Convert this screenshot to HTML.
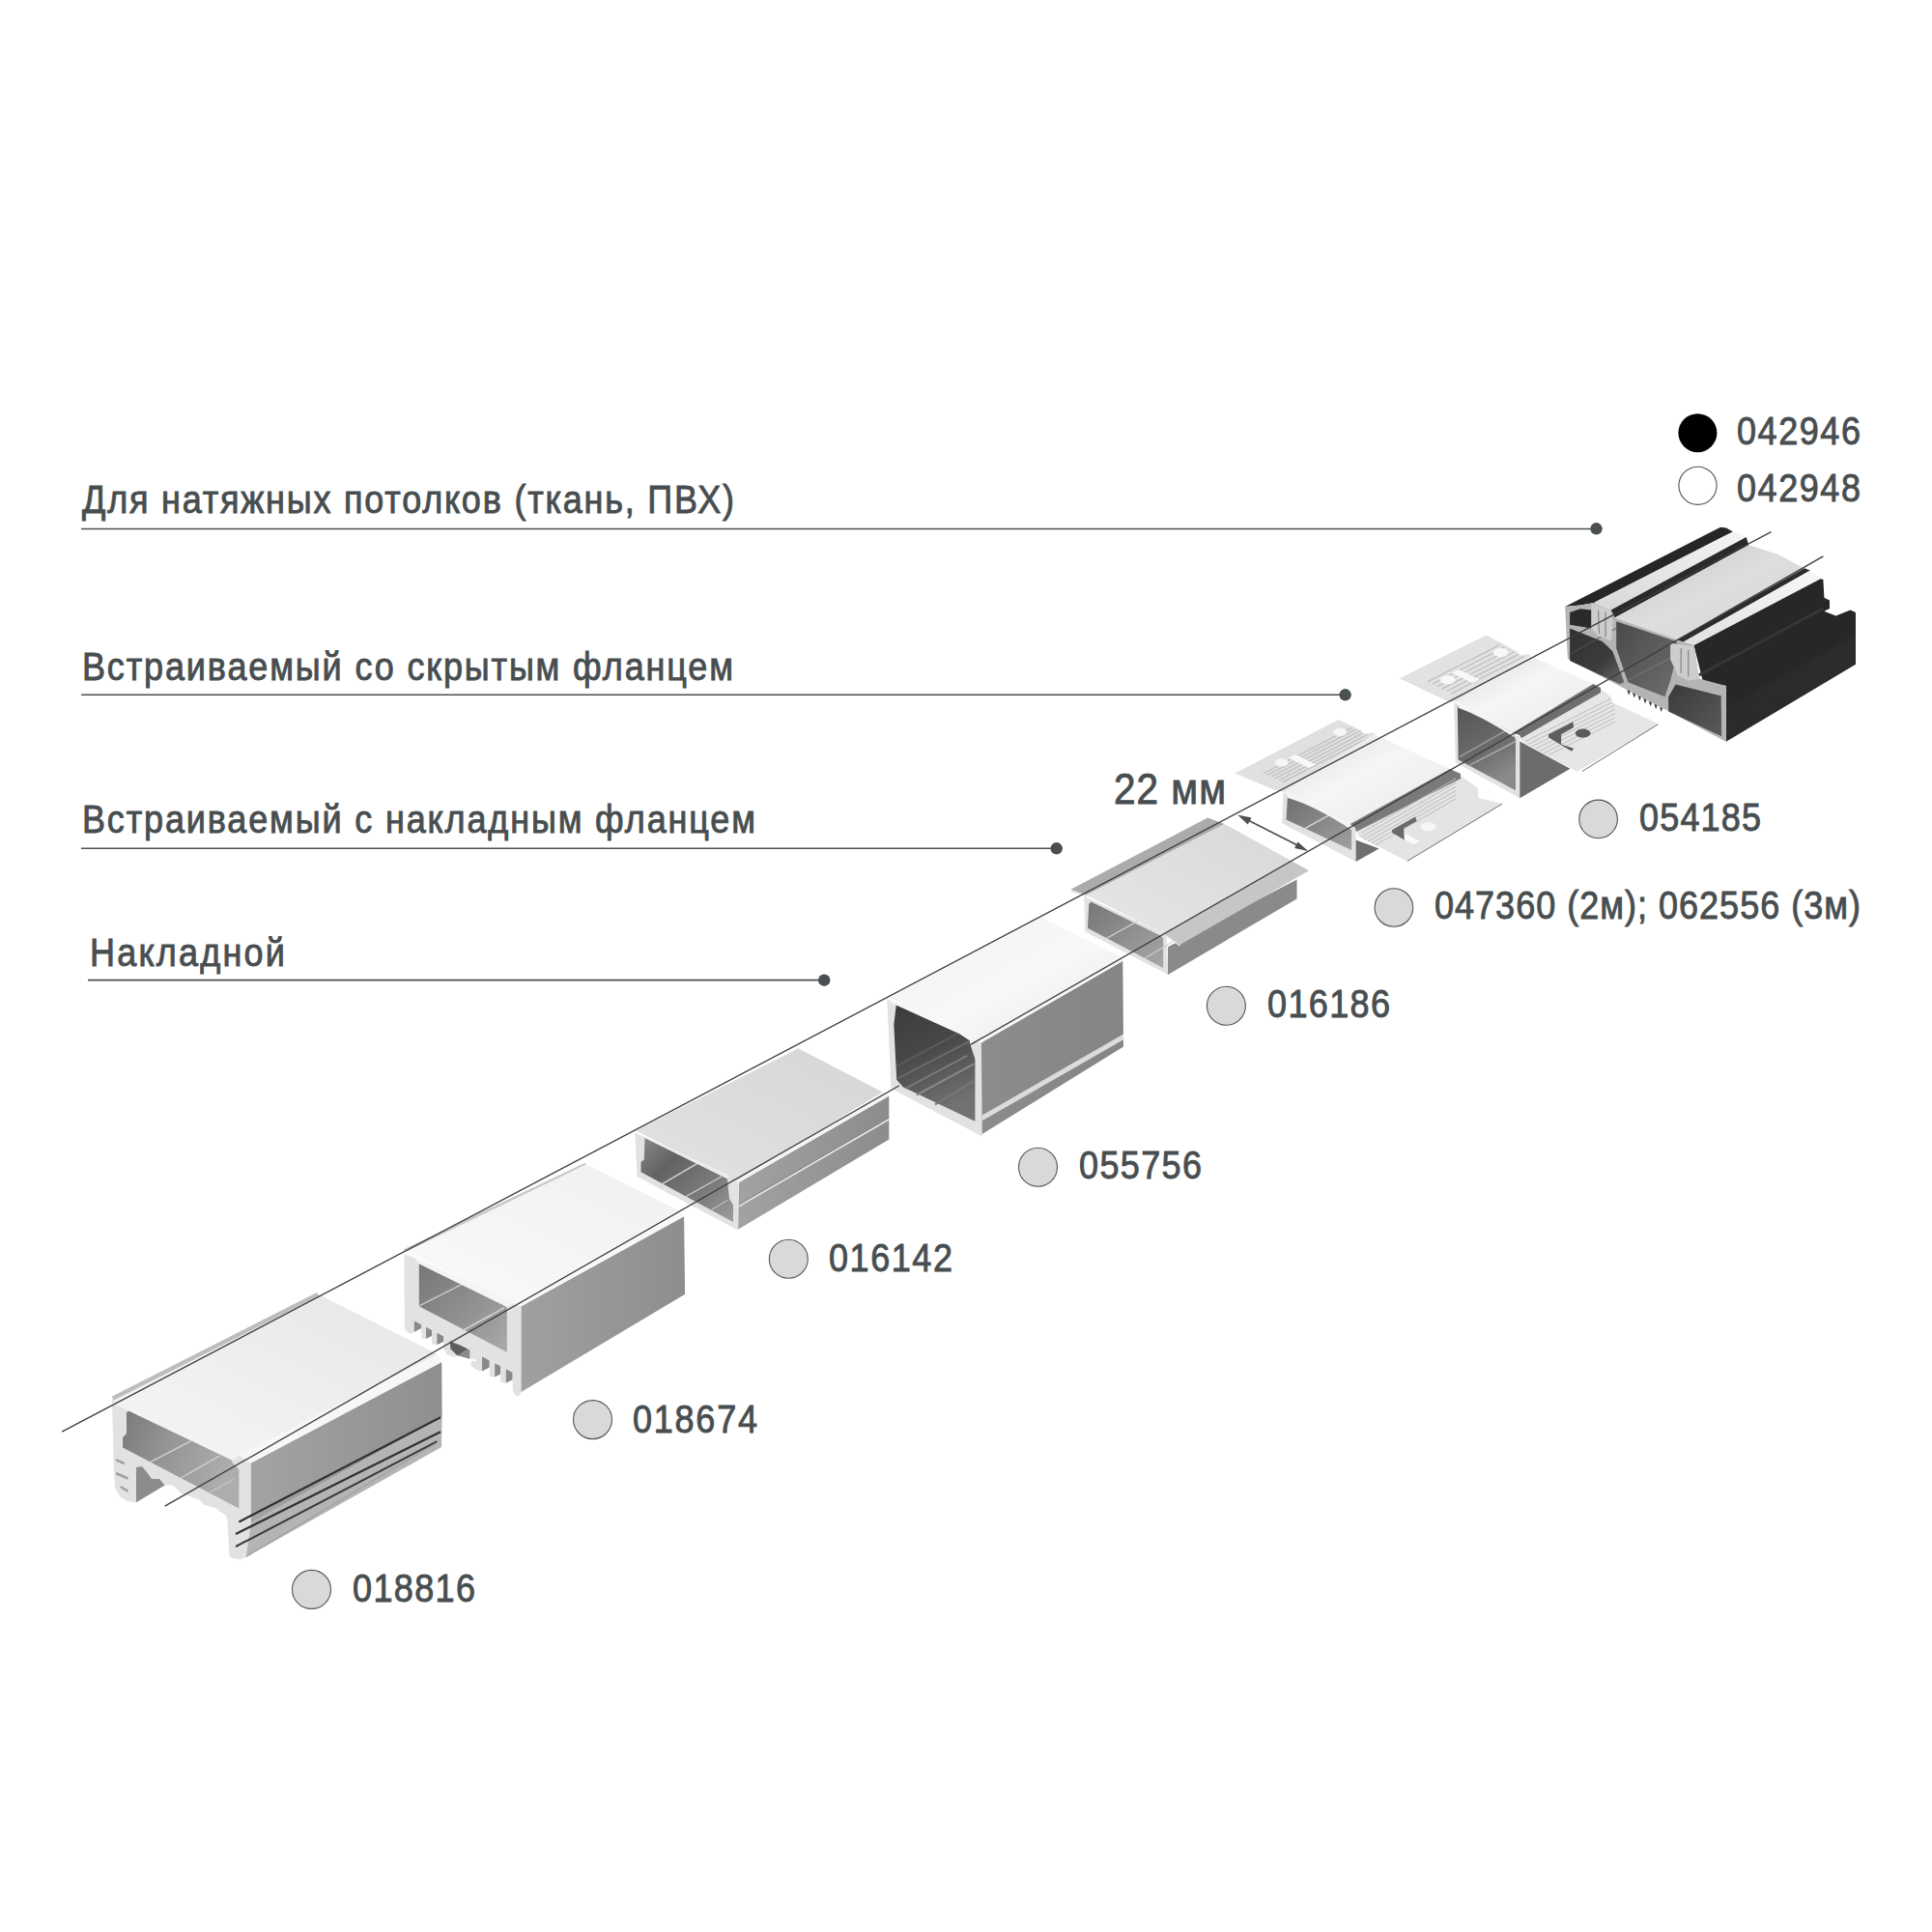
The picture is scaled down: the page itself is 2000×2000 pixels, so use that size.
<!DOCTYPE html>
<html><head><meta charset="utf-8">
<style>
html,body{margin:0;padding:0;background:#fff;width:2000px;height:2000px;overflow:hidden}
svg{display:block}
text{font-family:"Liberation Sans",sans-serif;fill:#484e50;stroke:#484e50;stroke-width:0.9px}
</style></head><body>
<svg width="2000" height="2000" viewBox="0 0 2000 2000">
<rect width="2000" height="2000" fill="#ffffff"/>
<!-- PROFILES -->
<defs>
<linearGradient id="gSide1" x1="0" y1="0" x2="1" y2="0"><stop offset="0" stop-color="#a3a3a3"/><stop offset="1" stop-color="#8f8f8f"/></linearGradient>
<linearGradient id="gSide2" x1="0" y1="0" x2="1" y2="0"><stop offset="0" stop-color="#a0a0a0"/><stop offset="1" stop-color="#8e8e8e"/></linearGradient>
<linearGradient id="gSide3" x1="0" y1="0" x2="1" y2="0"><stop offset="0" stop-color="#a2a2a2"/><stop offset="1" stop-color="#8c8c8c"/></linearGradient>
<linearGradient id="gSide4" x1="0" y1="0" x2="1" y2="0"><stop offset="0" stop-color="#8c8c8c"/><stop offset="1" stop-color="#858585"/></linearGradient>
<linearGradient id="gInt1" x1="0" y1="0" x2="1" y2="0.3"><stop offset="0" stop-color="#7a7a7a"/><stop offset="0.45" stop-color="#959595"/><stop offset="1" stop-color="#adadad"/></linearGradient>
<linearGradient id="gInt2" x1="0" y1="0" x2="1" y2="1"><stop offset="0" stop-color="#767676"/><stop offset="0.5" stop-color="#8e8e8e"/><stop offset="1" stop-color="#aaaaaa"/></linearGradient>
<linearGradient id="gInt3" x1="0" y1="0" x2="1" y2="1"><stop offset="0" stop-color="#8a8a8a"/><stop offset="0.3" stop-color="#626262"/><stop offset="0.7" stop-color="#7e7e7e"/><stop offset="1" stop-color="#9e9e9e"/></linearGradient>
<linearGradient id="gInt4" x1="0" y1="0" x2="0.3" y2="1"><stop offset="0" stop-color="#3c3c3c"/><stop offset="0.45" stop-color="#474747"/><stop offset="1" stop-color="#727272"/></linearGradient>
<linearGradient id="gInt5" x1="0" y1="0" x2="1" y2="1"><stop offset="0" stop-color="#767676"/><stop offset="0.5" stop-color="#8e8e8e"/><stop offset="1" stop-color="#a8a8a8"/></linearGradient>
<linearGradient id="gInt6" x1="0" y1="0" x2="1" y2="1"><stop offset="0" stop-color="#6e6e6e"/><stop offset="1" stop-color="#a0a0a0"/></linearGradient>
<linearGradient id="gInt7" x1="0" y1="0" x2="0.4" y2="1"><stop offset="0" stop-color="#555"/><stop offset="0.6" stop-color="#6a6a6a"/><stop offset="1" stop-color="#8a8a8a"/></linearGradient>
<linearGradient id="gTop" x1="0" y1="1" x2="1" y2="0"><stop offset="0" stop-color="#f6f6f6"/><stop offset="0.5" stop-color="#eeeeee"/><stop offset="1" stop-color="#e6e6e6"/></linearGradient>
<linearGradient id="gTop2" x1="0" y1="1" x2="1" y2="0"><stop offset="0" stop-color="#fafafa"/><stop offset="1" stop-color="#f0f0f0"/></linearGradient>
<linearGradient id="gTop3" x1="0" y1="1" x2="1" y2="0"><stop offset="0" stop-color="#e2e2e2"/><stop offset="1" stop-color="#d6d6d6"/></linearGradient>
<linearGradient id="gTop4" x1="0" y1="0" x2="1" y2="1"><stop offset="0" stop-color="#f2f2f2"/><stop offset="0.55" stop-color="#f8f8f8"/><stop offset="1" stop-color="#e6e6e6"/></linearGradient>
<linearGradient id="gTop5" x1="0" y1="1" x2="1" y2="0"><stop offset="0" stop-color="#e6e6e6"/><stop offset="1" stop-color="#d8d8d8"/></linearGradient>
<linearGradient id="gTop6" x1="0" y1="0" x2="1" y2="1"><stop offset="0" stop-color="#dcdcdc"/><stop offset="0.45" stop-color="#f6f6f6"/><stop offset="0.8" stop-color="#ededed"/><stop offset="1" stop-color="#d2d2d2"/></linearGradient>
<linearGradient id="gTop7" x1="0" y1="0" x2="1" y2="1"><stop offset="0" stop-color="#dcdcdc"/><stop offset="0.45" stop-color="#f6f6f6"/><stop offset="0.8" stop-color="#ededed"/><stop offset="1" stop-color="#d2d2d2"/></linearGradient>
<linearGradient id="gTop8" x1="0" y1="0" x2="1" y2="1"><stop offset="0" stop-color="#c4c4c4"/><stop offset="0.5" stop-color="#dedede"/><stop offset="1" stop-color="#d4d4d4"/></linearGradient>
<linearGradient id="gW1" x1="0" y1="1" x2="1" y2="0"><stop offset="0" stop-color="#d8d8d8"/><stop offset="1" stop-color="#f4f4f4"/></linearGradient>
<linearGradient id="gW2" x1="0" y1="1" x2="1" y2="0"><stop offset="0" stop-color="#e0e0e0"/><stop offset="1" stop-color="#f8f8f8"/></linearGradient>
<linearGradient id="gCav1" x1="0" y1="0" x2="1" y2="1"><stop offset="0" stop-color="#303030"/><stop offset="0.6" stop-color="#3c3c3c"/><stop offset="1" stop-color="#6a6a6a"/></linearGradient>
<linearGradient id="gCav2" x1="0" y1="0" x2="1" y2="1"><stop offset="0" stop-color="#4a4a4a"/><stop offset="1" stop-color="#6e6e6e"/></linearGradient>
<linearGradient id="gCav3" x1="0" y1="0" x2="1" y2="1"><stop offset="0" stop-color="#3a3a3a"/><stop offset="1" stop-color="#5a5a5a"/></linearGradient>
<clipPath id="c6"><polygon points="1404.3,854.9 1504.2,797.8 1519.2,808.1 1529.7,815.6 1530.4,826.1 1555.2,832.1 1456.9,891.4 1405.8,865.8"/></clipPath><clipPath id="c7"><polygon points="1573.3,760.6 1655.9,712.5 1667.5,721.2 1669.0,727.0 1712.5,747.2 1716.1,750.4 1632.8,798.7 1574.8,767.5"/></clipPath></defs>
<g id="profiles">
<g><!-- 042946 -->
<polygon points="1753.3,667.2 1881.8,598.3 1887.4,600.1 1888.4,618.8 1894.0,621.5 1894.0,629.9 1888.4,632.7 1900.5,637.4 1915.4,631.4 1921.0,634.0 1921.0,687.7 1786.8,767.8 1786.8,710.1 1778.4,708.2 1762.6,704.5" fill="#272727" />
<polyline points="1758.9,698.9 1887.4,629.9" fill="none" stroke="#363636" stroke-width="3" />
<polyline points="1787.2,734.3 1920.6,658.8" fill="none" stroke="#363636" stroke-width="0.8" />
<polyline points="1787.2,737.2 1920.6,661.3" fill="none" stroke="#363636" stroke-width="0.8" />
<polyline points="1787.2,740.0 1920.6,663.9" fill="none" stroke="#363636" stroke-width="0.8" />
<polyline points="1787.2,742.9 1920.6,666.4" fill="none" stroke="#363636" stroke-width="0.8" />
<polyline points="1787.2,745.8 1920.6,669.0" fill="none" stroke="#363636" stroke-width="0.8" />
<polyline points="1787.2,748.7 1920.6,671.5" fill="none" stroke="#363636" stroke-width="0.8" />
<polyline points="1787.2,751.5 1920.6,674.1" fill="none" stroke="#363636" stroke-width="0.8" />
<polyline points="1787.2,754.4 1920.6,676.6" fill="none" stroke="#363636" stroke-width="0.8" />
<polyline points="1787.2,757.3 1920.6,679.1" fill="none" stroke="#363636" stroke-width="0.8" />
<polyline points="1787.2,760.2 1920.6,681.7" fill="none" stroke="#363636" stroke-width="0.8" />
<polyline points="1787.2,763.1 1920.6,684.2" fill="none" stroke="#363636" stroke-width="0.8" />
<polyline points="1787.2,765.9 1920.6,686.8" fill="none" stroke="#363636" stroke-width="0.8" />
<polygon points="1620.1,628.1 1781.2,545.7 1787.2,546.6 1793.9,550.4 1650.4,624.0 1635.9,626.6" fill="#262626" />
<polygon points="1650.4,623.6 1793.9,550.4 1807.7,556.0 1667.6,631.4" fill="url(#gW1)" />
<polygon points="1667.6,631.4 1807.7,556.0 1810.3,564.3 1671.7,639.6" fill="#2a2a2a" />
<polygon points="1671.7,639.2 1810.3,564.3 1840.9,574.0 1867.9,588.6 1736.9,662.5" fill="url(#gTop8)" />
<polygon points="1736.9,662.0 1867.9,588.2 1874.0,590.4 1738.7,667.2" fill="#2c2c2c" />
<polygon points="1738.4,666.8 1874.0,590.4 1886.5,598.3 1753.7,668.1" fill="url(#gW2)" />
<polygon points="1620.1,628.1 1635.9,626.6 1650.4,624.0 1667.6,631.4 1671.7,639.6 1736.9,662.5 1753.7,668.1 1758.9,702.6 1778.4,707.8 1786.8,710.1 1786.8,767.8 1723.5,734.3 1721.6,733.3 1681.5,712.8 1622.9,682.1" fill="#b4b4b4" />
<polygon points="1625.1,634.0 1635.9,630.3 1647.4,631.4 1647.4,650.4 1625.1,646.7" fill="#2a2a2a" />
<polygon points="1625.1,650.4 1658.3,663.8 1664.2,669.1 1669.4,674.6 1681.5,706.3 1676.9,708.2 1625.1,684.0" fill="url(#gCav1)" />
<polygon points="1673.2,643.3 1734.6,663.8 1738.4,669.1 1729.1,704.5 1723.5,721.2 1685.3,706.3 1673.2,671.3" fill="url(#gCav2)" />
<polygon points="1727.2,721.2 1734.6,708.6 1781.6,720.3 1782.2,762.2 1727.2,736.5" fill="url(#gCav3)" />
<polyline points="1684.3,704.5 1734.6,678.4" fill="none" stroke="#7a7a7a" stroke-width="1" />
<polyline points="1626.6,676.5 1673.2,650.4" fill="none" stroke="#555" stroke-width="1" />
<polygon points="1647.4,624.3 1667.6,631.8 1669.8,643.0 1667.9,663.8 1654.5,658.3 1647.4,650.4" fill="#cdcdcd" />
<polygon points="1729.1,665.7 1753.7,669.1 1758.9,703.0 1747.7,704.5 1736.9,699.2 1729.1,682.5" fill="#cdcdcd" />
<polyline points="1654.5,631.8 1655.5,656.0" fill="none" stroke="#8a8a8a" stroke-width="1.3" />
<polyline points="1662.0,633.7 1662.0,659.7" fill="none" stroke="#8a8a8a" stroke-width="1.3" />
<polyline points="1740.2,670.9 1740.2,697.0" fill="none" stroke="#8a8a8a" stroke-width="1.3" />
<polyline points="1747.7,672.8 1747.7,700.7" fill="none" stroke="#8a8a8a" stroke-width="1.3" />
<polygon points="1684.3,714.1 1687.7,715.8 1686.2,719.7" fill="#3a3a3a" />
<polygon points="1689.9,717.0 1693.3,718.7 1691.8,722.6" fill="#3a3a3a" />
<polygon points="1695.5,719.9 1698.9,721.6 1697.4,725.5" fill="#3a3a3a" />
<polygon points="1701.1,722.8 1704.5,724.5 1703.0,728.4" fill="#3a3a3a" />
<polygon points="1706.7,725.7 1710.1,727.4 1708.6,731.3" fill="#3a3a3a" />
<polygon points="1712.3,728.6 1715.6,730.3 1714.2,734.2" fill="#3a3a3a" />
<polygon points="1717.9,731.5 1721.2,733.2 1719.7,737.1" fill="#3a3a3a" />
</g>
<g><!-- 054185 -->
<polygon points="1448.7,702.3 1538.6,657.4 1571.2,674.8 1572.6,678.4 1583.5,677.0 1584.9,682.0 1508.1,725.5 1500.9,727.0" fill="#e2e2e2" />
<polyline points="1477.8,705.9 1552.7,667.5" fill="none" stroke="#bdbdbd" stroke-width="1.2" />
<polyline points="1482.7,708.3 1557.7,669.9" fill="none" stroke="#bdbdbd" stroke-width="1.2" />
<polyline points="1487.7,710.7 1562.7,672.3" fill="none" stroke="#bdbdbd" stroke-width="1.2" />
<polyline points="1492.7,713.1 1567.7,674.7" fill="none" stroke="#bdbdbd" stroke-width="1.2" />
<polyline points="1497.7,715.5 1572.6,677.1" fill="none" stroke="#bdbdbd" stroke-width="1.2" />
<polyline points="1502.6,717.9 1577.6,679.5" fill="none" stroke="#bdbdbd" stroke-width="1.2" />
<polygon points="1502.6,696.6 1509.8,693.0 1531.4,703.4 1524.2,707.0" fill="#f8f8f8" />
<path d="M1498.7,703.8 m-8,0 a8,4.5 0 1,0 16,0 a8,4.5 0 1,0 -16,0" fill="#f8f8f8" />
<path d="M1553.8,675.5 m-8,0 a8,4.5 0 1,0 16,0 a8,4.5 0 1,0 -16,0" fill="#f8f8f8" />
<polygon points="1505.2,727.0 1570.4,761.7 1573.3,762.5 1573.3,826.2 1506.7,789.3" fill="#e2e2e2" />
<polygon points="1508.8,729.9 1566.1,757.4 1569.0,766.1 1569.0,818.3 1509.6,786.4" fill="url(#gInt7)" />
<polyline points="1511.0,783.5 1564.6,753.0" fill="none" stroke="#9a9a9a" stroke-width="1.5" />
<polyline points="1521.2,792.2 1569.0,767.5" fill="none" stroke="#aaaaaa" stroke-width="1.5" />
<polygon points="1573.3,767.5 1625.5,795.8 1573.3,826.2" fill="#6c6c6c" />
<polygon points="1508.1,725.5 1582.8,678.4 1649.4,708.1 1566.1,758.8" fill="url(#gTop7)" />
<path d="M1508.1,725.5 L1566.1,758.8 L1567.5,763.2 Q1535.7,742.2 1509.6,732.8 Z" fill="#f4f4f4" />
<polygon points="1573.3,760.6 1655.9,712.5 1667.5,721.2 1669.0,727.0 1712.5,747.2 1716.1,750.4 1632.8,798.7 1574.8,767.5" fill="#e6e6e6" />
<polyline points="1637.9,798.5 1716.6,749.7" fill="none" stroke="#707070" stroke-width="1" />
<polygon points="1566.0,758.8 1649.4,708.1 1657.0,712.0 1657.0,717.0 1575.0,764.0 1573.0,761.0" fill="#6e6e6e" />
<polyline points="1579.1,767.5 1671.9,721.2" fill="none" stroke="#bdbdbd" stroke-width="1.0" clip-path="url(#c7)"/>
<polyline points="1579.1,771.9 1671.9,725.5" fill="none" stroke="#bdbdbd" stroke-width="1.0" clip-path="url(#c7)"/>
<polyline points="1579.1,776.2 1671.9,729.9" fill="none" stroke="#bdbdbd" stroke-width="1.0" clip-path="url(#c7)"/>
<polyline points="1579.1,780.6 1671.9,734.2" fill="none" stroke="#bdbdbd" stroke-width="1.0" clip-path="url(#c7)"/>
<polyline points="1579.1,784.9 1671.9,738.6" fill="none" stroke="#bdbdbd" stroke-width="1.0" clip-path="url(#c7)"/>
<polyline points="1579.1,789.3 1671.9,742.9" fill="none" stroke="#bdbdbd" stroke-width="1.0" clip-path="url(#c7)"/>
<polyline points="1579.1,793.6 1671.9,747.2" fill="none" stroke="#bdbdbd" stroke-width="1.0" clip-path="url(#c7)"/>
<polygon points="1603.0,760.3 1628.4,747.2 1629.1,753.0 1616.1,760.3 1616.1,770.4 1629.1,774.8 1627.0,777.7 1603.0,763.2" fill="#5e5e5e" />
<path d="M1638.6,759.1 m-8,0 a8,4.5 0 1,0 16,0 a8,4.5 0 1,0 -16,0" fill="#5a5a5a" />
</g>
<g><!-- 047360 -->
<polygon points="1278.3,800.5 1385.6,745.0 1409.6,756.3 1410.3,760.0 1421.6,758.5 1425.4,762.3 1330.0,820.1 1319.5,817.8" fill="#e0e0e0" />
<polyline points="1307.7,800.8 1398.9,753.6" fill="none" stroke="#bdbdbd" stroke-width="1.2" />
<polyline points="1311.8,802.5 1403.0,755.3" fill="none" stroke="#bdbdbd" stroke-width="1.2" />
<polyline points="1315.9,804.2 1407.1,757.0" fill="none" stroke="#bdbdbd" stroke-width="1.2" />
<polyline points="1320.0,806.0 1411.2,758.8" fill="none" stroke="#bdbdbd" stroke-width="1.2" />
<polyline points="1324.1,807.7 1415.3,760.5" fill="none" stroke="#bdbdbd" stroke-width="1.2" />
<polyline points="1328.3,809.4 1419.5,762.2" fill="none" stroke="#bdbdbd" stroke-width="1.2" />
<polygon points="1333.6,784.6 1340.8,781.0 1362.4,791.4 1355.2,795.0" fill="#f8f8f8" />
<path d="M1326.7,789.3 m-7,0 a7,4 0 1,0 14,0 a7,4 0 1,0 -14,0" fill="#f6f6f6" />
<path d="M1387.1,757.8 m-7,0 a7,4 0 1,0 14,0 a7,4 0 1,0 -14,0" fill="#f6f6f6" />
<polygon points="1328.5,820.1 1397.6,853.1 1403.6,856.1 1403.6,892.1 1327.0,852.3" fill="#e2e2e2" />
<polygon points="1333.0,822.3 1394.6,853.8 1399.1,857.6 1399.1,880.1 1331.5,848.6" fill="url(#gInt6)" />
<polyline points="1348.1,859.1 1378.1,842.6" fill="none" stroke="#d8d8d8" stroke-width="1.2" />
<polygon points="1403.6,869.6 1427.6,878.6 1403.6,892.1" fill="#6e6e6e" />
<polygon points="1330.0,818.6 1421.6,760.0 1501.2,796.0 1397.6,853.1" fill="url(#gTop6)" />
<path d="M1330.0,818.6 L1397.6,853.1 L1399.1,859.1 Q1360.1,833.6 1333.0,826.1 Z" fill="#f4f4f4" />
<polygon points="1404.3,854.9 1504.2,797.8 1519.2,808.1 1529.7,815.6 1530.4,826.1 1555.2,832.1 1456.9,891.4 1405.8,865.8" fill="#e4e4e4" />
<polyline points="1456.9,891.4 1555.2,832.1" fill="none" stroke="#707070" stroke-width="1" />
<polygon points="1397.6,853.1 1501.2,796.0 1512.0,801.0 1512.0,806.0 1404.0,861.0 1403.0,857.0" fill="#7a7a7a" />
<polyline points="1409.6,862.1 1507.2,805.8" fill="none" stroke="#bdbdbd" stroke-width="1.0" clip-path="url(#c6)"/>
<polyline points="1409.6,866.3 1507.2,810.0" fill="none" stroke="#bdbdbd" stroke-width="1.0" clip-path="url(#c6)"/>
<polyline points="1409.6,870.5 1507.2,814.2" fill="none" stroke="#bdbdbd" stroke-width="1.0" clip-path="url(#c6)"/>
<polyline points="1409.6,874.7 1507.2,818.4" fill="none" stroke="#bdbdbd" stroke-width="1.0" clip-path="url(#c6)"/>
<polyline points="1409.6,878.9 1507.2,822.6" fill="none" stroke="#bdbdbd" stroke-width="1.0" clip-path="url(#c6)"/>
<polyline points="1409.6,883.1 1507.2,826.8" fill="none" stroke="#bdbdbd" stroke-width="1.0" clip-path="url(#c6)"/>
<polygon points="1441.1,859.1 1465.1,845.6 1466.6,850.1 1453.1,857.6 1453.9,869.6 1441.1,862.1" fill="#6a6a6a" />
<polygon points="1453.9,862.1 1469.6,871.1 1463.6,874.1 1453.9,869.6" fill="#fafafa" />
<path d="M1478.6,855.8 m-8,0 a8,4.5 0 1,0 16,0 a8,4.5 0 1,0 -16,0" fill="#f6f6f6" />
</g>
<g><!-- 016186 -->
<polygon points="1108.4,920.8 1250.2,846.5 1267.7,853.1 1124.5,926.4" fill="#ababab" />
<polygon points="1108.4,920.8 1124.5,926.4 1125.2,928.5 1109.8,923.3" fill="#dedede" />
<polygon points="1122.4,927.8 1207.6,968.3 1209.0,1008.9 1123.1,964.2" fill="#e2e2e2" />
<polygon points="1129.3,933.4 1200.6,968.3 1204.1,971.1 1204.1,1001.9 1125.9,960.7 1127.2,936.2" fill="url(#gInt5)" />
<polyline points="1143.3,972.5 1183.8,950.2" fill="none" stroke="#d6d6d6" stroke-width="1.2" />
<polyline points="1185.2,992.1 1220.2,971.1" fill="none" stroke="#d0d0d0" stroke-width="1.2" />
<polygon points="1209.0,980.2 1342.5,910.4 1342.5,930.6 1209.0,1008.9" fill="#8a8a8a" />
<polygon points="1204.8,966.9 1337.6,891.5 1355.0,901.3 1221.6,978.1" fill="#c6c6c6" />
<polygon points="1207.6,968.3 1221.6,978.1 1221.6,979.8 1208.3,970.4" fill="#e6e6e6" />
<polygon points="1124.5,926.4 1267.7,853.1 1337.6,891.5 1204.8,966.9" fill="url(#gTop5)" />
</g>
<g><!-- 055756 -->
<polygon points="918.3,1033.3 1007.7,1077.1 1016.0,1078.0 1016.8,1176.5 922.4,1126.8" fill="#e2e2e2" />
<polygon points="927.8,1040.3 959.7,1054.8 992.8,1069.7 1004.0,1077.1 1004.4,1081.3 1009.4,1096.2 1009.4,1160.8 934.8,1125.2 928.2,1117.7 925.3,1060.6" fill="url(#gInt4)" />
<polyline points="928.2,1103.6 992.0,1069.7" fill="none" stroke="#5a5a5a" stroke-width="2" />
<polyline points="929.9,1116.1 1003.6,1078.0" fill="none" stroke="#6a6a6a" stroke-width="2" />
<polyline points="937.3,1126.8 1001.1,1092.9" fill="none" stroke="#7a7a7a" stroke-width="2" />
<polyline points="948.9,1133.5 1008.6,1101.2" fill="none" stroke="#888" stroke-width="2" />
<polyline points="968.0,1143.4 1008.6,1118.6" fill="none" stroke="#777" stroke-width="2" />
<polygon points="920.3,1032.8 1078.3,949.9 1159.4,990.0 1011.6,1078.4" fill="url(#gTop4)" />
<polygon points="918.3,1032.8 1007.7,1076.7 1004.4,1081.3 1004.0,1077.3 992.8,1069.9 959.7,1054.9 927.8,1040.5 922.4,1038.2" fill="#f4f4f4" />
<polygon points="1015.9,1079.4 1162.3,994.8 1163.0,1083.5 1016.7,1174.1" fill="url(#gSide4)" />
<polygon points="1011.6,1078.4 1159.4,990.0 1162.3,994.8 1015.9,1079.4" fill="#f6f6f6" />
<polygon points="1016.7,1154.5 1163.0,1070.4 1163.0,1076.2 1016.7,1160.3" fill="#dcdcdc" />
</g>
<g><!-- 016142 -->
<polygon points="657.4,1172.8 756.3,1217.2 764.4,1222.2 764.4,1273.7 659.4,1217.9" fill="#e2e2e2" />
<polygon points="667.5,1177.8 746.9,1217.2 752.9,1220.6 755.0,1240.7 759.0,1247.5 759.0,1265.0 663.5,1213.2 663.5,1203.1 666.8,1200.4" fill="url(#gInt3)" />
<polyline points="685.0,1225.9 722.0,1204.4" fill="none" stroke="#d6d6d6" stroke-width="1.3" />
<polyline points="709.9,1238.7 746.9,1217.9" fill="none" stroke="#d0d0d0" stroke-width="1.2" />
<polyline points="736.1,1252.9 753.6,1242.1" fill="none" stroke="#c8c8c8" stroke-width="1.1" />
<polygon points="658.2,1170.6 826.3,1085.2 913.6,1130.6 761.9,1223.0" fill="url(#gTop3)" />
<polygon points="657.4,1172.4 756.3,1216.9 752.9,1220.2 746.9,1217.3 667.5,1178.0 663.5,1175.5" fill="#ebebeb" />
<polygon points="765.0,1224.0 920.3,1134.4 920.3,1179.5 764.2,1272.6" fill="url(#gSide3)" />
<polygon points="761.9,1223.0 913.6,1130.6 920.3,1134.4 765.0,1224.0" fill="#f4f4f4" />
<polyline points="765.0,1248.6 920.3,1158.8" fill="none" stroke="#e8e8e8" stroke-width="1.6" />
<polyline points="765.0,1246.7 920.3,1157.0" fill="none" stroke="#8a8a8a" stroke-width="1" />
</g>
<g><!-- 018674 -->
<polygon points="428.5,1367.1 436.4,1371.3 436.4,1375.0 428.5,1379.0" fill="#8a8a8a" />
<polygon points="440.8,1373.6 447.0,1376.8 447.0,1383.0 440.8,1386.0" fill="#8a8a8a" />
<polygon points="452.2,1379.6 459.3,1383.3 459.3,1388.7 452.2,1392.2" fill="#8a8a8a" />
<polygon points="498.9,1404.1 506.8,1408.2 506.8,1415.5 498.9,1419.5" fill="#8a8a8a" />
<polygon points="512.1,1411.0 518.2,1414.2 518.2,1422.6 512.1,1425.6" fill="#8a8a8a" />
<polygon points="523.5,1417.0 530.7,1420.8 530.7,1428.2 523.5,1431.8" fill="#8a8a8a" />
<polygon points="464.6,1386.1 486.6,1397.6 486.6,1406.7 473.4,1403.2 464.6,1398.4" fill="#8a8a8a" />
<polygon points="418.4,1297.2 538.9,1352.6 539.4,1441.5 536.7,1445.4 532.8,1444.1 530.7,1438.4 530.7,1420.8 428.5,1367.1 428.5,1378.6 425.8,1380.8 421.4,1379.0 418.8,1375.0" fill="#e2e2e2" />
<polygon points="436.4,1371.1 440.8,1373.4 440.8,1386.0 436.4,1385.3" fill="#e2e2e2" />
<polygon points="447.0,1376.6 452.2,1379.4 452.2,1392.2 447.0,1391.5" fill="#e2e2e2" />
<polygon points="459.3,1383.1 464.6,1385.9 464.6,1398.4 459.3,1397.7" fill="#e2e2e2" />
<polygon points="506.8,1408.1 512.1,1410.8 512.1,1425.6 506.8,1424.9" fill="#e2e2e2" />
<polygon points="518.2,1414.1 523.5,1416.8 523.5,1431.8 518.2,1431.1" fill="#e2e2e2" />
<polygon points="459.3,1383.3 473.4,1390.7 473.4,1403.2 470.7,1405.0 462.8,1402.3 460.6,1397.9" fill="#e2e2e2" />
<polygon points="465.9,1388.2 483.9,1396.2 473.4,1403.2 466.3,1396.2" fill="#5e5e5e" />
<polygon points="486.6,1397.6 498.9,1404.1 498.9,1418.2 496.7,1419.5 489.2,1415.5 487.0,1412.0 488.8,1408.5 492.7,1409.4 492.7,1406.7 486.6,1406.7" fill="#e2e2e2" />
<polygon points="433.8,1308.2 520.9,1350.8 524.8,1353.5 524.8,1399.7 433.8,1352.2" fill="url(#gInt2)" />
<polyline points="434.2,1351.7 478.6,1329.3" fill="none" stroke="#d8d8d8" stroke-width="1.2" />
<polyline points="478.6,1377.7 521.8,1353.9" fill="none" stroke="#d8d8d8" stroke-width="1.4" />
<polygon points="418.6,1294.0 605.4,1204.5 701.8,1252.9 530.8,1350.6" fill="url(#gTop2)" />
<polygon points="418.4,1296.7 532.3,1349.1 524.4,1353.0 520.9,1351.1 433.8,1308.3 427.6,1301.1 418.8,1298.9" fill="#f4f4f4" />
<polygon points="417.9,1293.3 605.1,1203.9 607.0,1205.2 419.9,1295.9" fill="#c8c8c8" />
<polygon points="539.5,1352.3 708.1,1259.2 709.1,1339.8 539.5,1440.9" fill="url(#gSide2)" />
<polygon points="530.8,1350.6 701.8,1252.9 708.1,1259.2 539.5,1352.3" fill="#f8f8f8" />
</g>
<g><!-- 018816 -->
<polygon points="116.0,1446.0 134.0,1455.0 247.0,1506.0 259.8,1514.5 260.0,1610.0 254.8,1612.0 248.6,1614.5 240.0,1613.0 237.5,1611.0 235.5,1575.0 234.2,1569.3 222.6,1560.7 218.7,1560.0 211.0,1557.6 207.0,1553.0 199.3,1549.9 187.6,1546.0 183.8,1542.1 178.3,1537.5 170.6,1537.5 141.0,1555.3 131.0,1554.0 124.0,1549.0 119.0,1540.0 117.5,1512.0" fill="#e2e2e2" />
<polygon points="131.0,1462.0 134.2,1460.4 240.0,1511.0 240.4,1514.0 247.4,1521.0 247.4,1561.5 127.1,1498.6 127.1,1488.0 131.0,1484.0" fill="url(#gInt1)" />
<polyline points="154.6,1514.2 197.7,1491.6" fill="none" stroke="#d0d0d0" stroke-width="1.4" />
<polyline points="186.5,1530.5 227.2,1507.2" fill="none" stroke="#d0d0d0" stroke-width="1.4" />
<polyline points="216.4,1545.2 242.0,1531.2" fill="none" stroke="#c8c8c8" stroke-width="1.2" />
<polygon points="141.0,1519.0 147.0,1518.0 152.0,1524.0 157.0,1531.0 165.0,1531.0 170.6,1537.5 141.0,1555.3" fill="#8c8c8c" />
<polyline points="120.1,1511.1 128.6,1515.0" fill="none" stroke="#a0a0a0" stroke-width="2.5" />
<polyline points="120.1,1525.0 132.5,1530.5" fill="none" stroke="#a0a0a0" stroke-width="2.5" />
<polyline points="124.8,1539.0 132.5,1543.7" fill="none" stroke="#a0a0a0" stroke-width="2.5" />
<polygon points="118.0,1448.0 330.0,1340.0 453.0,1402.0 247.0,1507.0" fill="url(#gTop)" />
<polygon points="118.0,1448.0 247.0,1507.0 241.0,1512.0 134.2,1461.0 119.0,1454.0" fill="#f3f3f3" />
<polygon points="116.0,1445.5 328.0,1338.0 330.0,1341.5 118.0,1449.5" fill="#bdbdbd" />
<polygon points="259.8,1514.5 457.3,1410.0 457.6,1467.0 259.8,1576.6" fill="url(#gSide1)" />
<polygon points="247.0,1506.0 453.0,1402.0 457.3,1410.0 259.8,1514.5" fill="#f7f7f7" />
<polygon points="259.8,1576.6 457.6,1467.0 457.0,1498.0 254.8,1612.0" fill="#b4b4b4" />
<polyline points="247.4,1575.4 456.0,1467.3" fill="none" stroke="#303030" stroke-width="2.2" />
<polyline points="244.0,1588.0 456.0,1482.2" fill="none" stroke="#303030" stroke-width="2.2" />
<polyline points="244.0,1601.0 452.4,1492.2" fill="none" stroke="#3a3a3a" stroke-width="2" />
<polyline points="254.8,1611.4 452.4,1493.4" fill="none" stroke="#9a9a9a" stroke-width="1" />
</g>
</g>
<g id="overlay">
<polyline points="64.1,1482.2 1833.4,550.7" fill="none" stroke="#3c3c3c" stroke-width="1.3" />
<polyline points="170.7,1559.1 931.0,1123.7" fill="none" stroke="#3c3c3c" stroke-width="1.3" />
<polyline points="1004.4,1081.6 1887.4,575.9" fill="none" stroke="#3c3c3c" stroke-width="1.3" />
<polyline points="1286.0,846.0 1349.0,878.0" fill="none" stroke="#4a4f52" stroke-width="1.6" />
<polygon points="1281.1,843.5 1295.6,846.6 1291.7,853.6" fill="#4a4f52" />
<polygon points="1354.1,881.0 1343.5,871.4 1340.1,878.1" fill="#4a4f52" />
</g>
<!-- LABELS -->
<g id="labels" stroke="none">
<text transform="translate(85.0,531.0) scale(0.9,1)" x="0" y="0" font-size="40" textLength="750.0" lengthAdjust="spacing">Для натяжных потолков (ткань, ПВХ)</text>
<text transform="translate(85.0,703.5) scale(0.9,1)" x="0" y="0" font-size="40" textLength="748.9" lengthAdjust="spacing">Встраиваемый со скрытым фланцем</text>
<text transform="translate(85.0,862.0) scale(0.9,1)" x="0" y="0" font-size="40" textLength="774.4" lengthAdjust="spacing">Встраиваемый с накладным фланцем</text>
<text transform="translate(93.0,1000.3) scale(0.9,1)" x="0" y="0" font-size="40" textLength="224.4" lengthAdjust="spacing">Накладной</text>
<text transform="translate(1798.0,460.4) scale(0.9,1)" x="0" y="0" font-size="40" textLength="142.2" lengthAdjust="spacing">042946</text>
<text transform="translate(1798.0,518.8) scale(0.9,1)" x="0" y="0" font-size="40" textLength="142.2" lengthAdjust="spacing">042948</text>
<text transform="translate(1697.0,860.0) scale(0.9,1)" x="0" y="0" font-size="40" textLength="140.0" lengthAdjust="spacing">054185</text>
<text transform="translate(1485.0,951.0) scale(0.9,1)" x="0" y="0" font-size="40" textLength="490.0" lengthAdjust="spacing">047360 (2м); 062556 (3м)</text>
<text transform="translate(1312.0,1053.3) scale(0.9,1)" x="0" y="0" font-size="40" textLength="141.1" lengthAdjust="spacing">016186</text>
<text transform="translate(1117.0,1219.6) scale(0.9,1)" x="0" y="0" font-size="40" textLength="141.1" lengthAdjust="spacing">055756</text>
<text transform="translate(858.0,1316.0) scale(0.9,1)" x="0" y="0" font-size="40" textLength="142.2" lengthAdjust="spacing">016142</text>
<text transform="translate(655.0,1482.5) scale(0.9,1)" x="0" y="0" font-size="40" textLength="143.3" lengthAdjust="spacing">018674</text>
<text transform="translate(365.0,1658.0) scale(0.9,1)" x="0" y="0" font-size="40" textLength="141.1" lengthAdjust="spacing">018816</text>
<text transform="translate(1153.0,832.4) scale(0.9,1)" x="0" y="0" font-size="45" textLength="128.9" lengthAdjust="spacing">22 мм</text>
</g>
<g id="leaders" stroke="#4a5052" stroke-width="1.6" fill="#4a5052">
<line x1="84" y1="547.5" x2="1652" y2="547.5"/><circle cx="1652.5" cy="547.3" r="6.2" stroke="none"/>
<line x1="84" y1="719.2" x2="1392" y2="719.2"/><circle cx="1392.6" cy="719.3" r="6.2" stroke="none"/>
<line x1="84" y1="878.3" x2="1093" y2="878.3"/><circle cx="1093.7" cy="878.3" r="6.2" stroke="none"/>
<line x1="91" y1="1014.6" x2="853" y2="1014.6"/><circle cx="853.2" cy="1014.7" r="6.2" stroke="none"/>
</g>
<g id="swatches" stroke="#555555" stroke-width="1.1">
<circle cx="1757.4" cy="448.2" r="20" fill="#000" stroke="none"/>
<circle cx="1757.5" cy="502.8" r="19.6" fill="#fff"/>
<circle cx="1654.6" cy="847.9" r="19.8" fill="#d9d9d9"/>
<circle cx="1442.9" cy="939.5" r="19.8" fill="#d9d9d9"/>
<circle cx="1269.4" cy="1041.2" r="20" fill="#d9d9d9"/>
<circle cx="1074.5" cy="1208.2" r="20" fill="#d9d9d9"/>
<circle cx="816.3" cy="1303.2" r="20" fill="#d9d9d9"/>
<circle cx="613.5" cy="1469.6" r="20" fill="#d9d9d9"/>
<circle cx="322.5" cy="1645.4" r="20" fill="#d9d9d9"/>
</g>
</svg>
</body></html>
